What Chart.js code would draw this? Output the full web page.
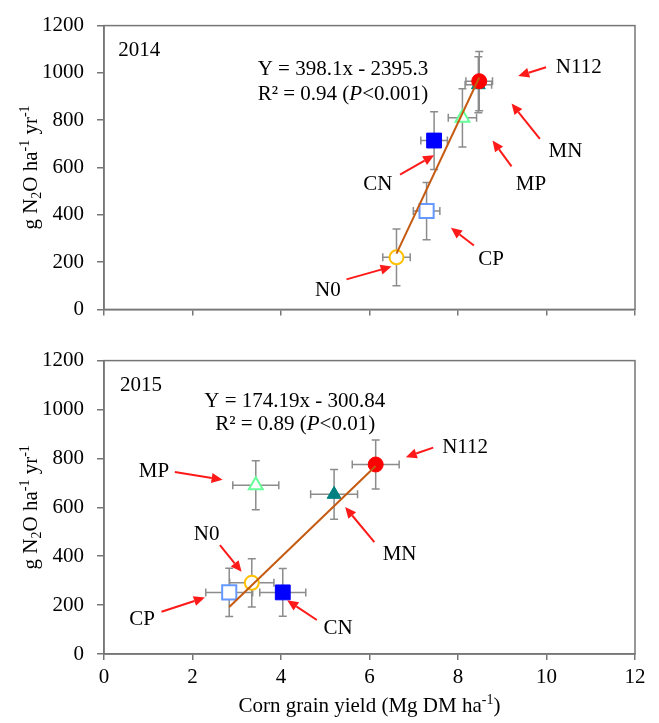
<!DOCTYPE html>
<html>
<head>
<meta charset="utf-8">
<script src="https://cdn.jsdelivr.net/npm/chart.js@4"></script>
<style>
body{margin:0;background:#fff;}
canvas{display:block;}
</style>
</head>
<body>
<canvas id="c2014" width="659" height="335"></canvas>
<canvas id="c2015" width="659" height="388"></canvas>
<script>
// treatments
var treatments = ['N0', 'N112', 'CP', 'CN', 'MP', 'MN'];

var yield2014 = [6.61, 8.48, 7.29, 7.46, 8.10, 8.46];
var n2o2014 = [220, 965, 416, 714, 810, 950];
var yieldErr2014 = [0.31, 0.30, 0.30, 0.30, 0.32, 0.30];
var n2oErr2014 = [120, 125, 121, 122, 123, 118];
var fit2014 = [398.1, -2395.3];

var yield2015 = [3.34, 6.14, 2.83, 4.04, 3.43, 5.20];
var n2o2015 = [291, 775, 252, 252, 690, 653];
var yieldErr2015 = [0.50, 0.53, 0.53, 0.52, 0.52, 0.53];
var n2oErr2015 = [99, 100, 99, 98, 100, 102];
var fit2015 = [174.19, -300.84];

var xTicks = [0, 2, 4, 6, 8, 10, 12];
var yTicks = [0, 200, 400, 600, 800, 1000, 1200];

var FONT = '"Liberation Serif", "Times New Roman", serif';
var FS = 21;
var AXIS = '#767676';

var markers = {
	N0:   {shape: 'circle',   r: 7,    fill: '#ffffff', stroke: '#FFC000', bw: 2},
	N112: {shape: 'circle',   r: 7.5,  fill: '#FF0000', stroke: '#FF0000', bw: 1},
	CP:   {shape: 'rect',     r: 10,   fill: '#ffffff', stroke: '#6699FF', bw: 2},
	CN:   {shape: 'rect',     r: 10.5, fill: '#0000FF', stroke: '#0000FF', bw: 1},
	MP:   {shape: 'triangle', r: 8,    fill: '#ffffff', stroke: '#66FF99', bw: 2},
	MN:   {shape: 'triangle', r: 8,    fill: '#008080', stroke: '#008080', bw: 1}
};

function fontOf(p){
	return (p.italic ? 'italic ' : '') + (p.size || FS) + 'px ' + FONT;
}

// draws a run of text pieces (sub/superscripts, italics); y is the visual centre
function drawRich(ctx, parts, x, y, align){
	var w = 0;
	ctx.textBaseline = 'alphabetic';
	ctx.textAlign = 'left';
	parts.forEach(function(p){
		ctx.font = fontOf(p);
		w += ctx.measureText(p.t).width;
	});
	var cx = align === 'left' ? x : (align === 'right' ? x - w : x - w / 2);
	var base = y + 7;
	parts.forEach(function(p){
		ctx.font = fontOf(p);
		ctx.fillText(p.t, cx, base + (p.dy || 0));
		cx += ctx.measureText(p.t).width;
	});
}

var framePlugin = {
	id: 'frame',
	beforeDatasetsDraw: function(chart){
		var a = chart.chartArea, ctx = chart.ctx;
		ctx.save();
		ctx.strokeStyle = AXIS;
		ctx.lineWidth = 1.5;
		ctx.strokeRect(a.left, a.top, a.right - a.left, a.bottom - a.top);
		ctx.restore();
	}
};

var errorBarPlugin = {
	id: 'errorBars',
	beforeDatasetsDraw: function(chart, args, opts){
		var xs = chart.scales.x, ys = chart.scales.y, ctx = chart.ctx;
		ctx.save();
		ctx.strokeStyle = '#8c8c8c';
		ctx.lineWidth = 1.5;
		for (var i = 0; i < opts.x.length; i++){
			var px = xs.getPixelForValue(opts.x[i]);
			var py = ys.getPixelForValue(opts.y[i]);
			var x0 = xs.getPixelForValue(opts.x[i] - opts.xe[i]);
			var x1 = xs.getPixelForValue(opts.x[i] + opts.xe[i]);
			var y0 = ys.getPixelForValue(opts.y[i] - opts.ye[i]);
			var y1 = ys.getPixelForValue(opts.y[i] + opts.ye[i]);
			var c = 4;
			ctx.beginPath();
			ctx.moveTo(x0, py); ctx.lineTo(x1, py);
			ctx.moveTo(x0, py - c); ctx.lineTo(x0, py + c);
			ctx.moveTo(x1, py - c); ctx.lineTo(x1, py + c);
			ctx.moveTo(px, y0); ctx.lineTo(px, y1);
			ctx.moveTo(px - c, y0); ctx.lineTo(px + c, y0);
			ctx.moveTo(px - c, y1); ctx.lineTo(px + c, y1);
			ctx.stroke();
		}
		ctx.restore();
	}
};

var notesPlugin = {
	id: 'notes',
	afterDraw: function(chart, args, opts){
		var xs = chart.scales.x, ys = chart.scales.y, ctx = chart.ctx, a = chart.chartArea;
		ctx.save();
		ctx.fillStyle = '#000';
		(opts.texts || []).forEach(function(t){
			var parts = typeof t.text === 'string' ? [{t: t.text}] : t.text;
			drawRich(ctx, parts, xs.getPixelForValue(t.x), ys.getPixelForValue(t.y), t.align || 'center');
		});
		(opts.arrows || []).forEach(function(ar){
			var x0 = xs.getPixelForValue(ar[0]), y0 = ys.getPixelForValue(ar[1]);
			var x1 = xs.getPixelForValue(ar[2]), y1 = ys.getPixelForValue(ar[3]);
			var ang = Math.atan2(y1 - y0, x1 - x0);
			var hl = 11, hw = 5;
			var bx = x1 - Math.cos(ang) * hl, by = y1 - Math.sin(ang) * hl;
			ctx.strokeStyle = '#FF1A1A';
			ctx.fillStyle = '#FF1A1A';
			ctx.lineWidth = 2;
			ctx.beginPath();
			ctx.moveTo(x0, y0); ctx.lineTo(bx, by);
			ctx.stroke();
			ctx.beginPath();
			ctx.moveTo(x1, y1);
			ctx.lineTo(bx + Math.sin(ang) * hw, by - Math.cos(ang) * hw);
			ctx.lineTo(bx - Math.sin(ang) * hw, by + Math.cos(ang) * hw);
			ctx.closePath();
			ctx.fill();
		});
		// axis titles
		ctx.fillStyle = '#000';
		ctx.save();
		ctx.translate(a.left - 74, (a.top + a.bottom) / 2);
		ctx.rotate(-Math.PI / 2);
		drawRich(ctx, [
			{t: 'g N'}, {t: '2', size: 14, dy: 4}, {t: 'O ha'}, {t: '-1', size: 14, dy: -8},
			{t: ' yr'}, {t: '-1', size: 14, dy: -8}
		], 0, 0, 'center');
		ctx.restore();
		if (opts.xTitle){
			drawRich(ctx, [
				{t: 'Corn grain yield (Mg DM ha'}, {t: '-1', size: 14, dy: -8}, {t: ')'}
			], (a.left + a.right) / 2, a.bottom + 51, 'center');
		}
		ctx.restore();
	}
};

function fitLine(xs, fit){
	var lo = Math.min.apply(null, xs), hi = Math.max.apply(null, xs);
	return [{x: lo, y: fit[0] * lo + fit[1]}, {x: hi, y: fit[0] * hi + fit[1]}];
}

function buildChart(id, xv, yv, xe, ye, fit, opt){
	var datasets = [{
		type: 'line',
		data: fitLine(xv, fit),
		borderColor: '#C55A11',
		borderWidth: 2,
		pointRadius: 0,
		fill: false,
		order: 0
	}];
	treatments.forEach(function(t, i){
		var m = markers[t];
		datasets.push({
			label: t,
			data: [{x: xv[i], y: yv[i]}],
			pointStyle: m.shape,
			pointRadius: m.r,
			backgroundColor: m.fill,
			borderColor: m.stroke,
			borderWidth: m.bw,
			order: 1
		});
	});

	return new Chart(document.getElementById(id), {
		type: 'scatter',
		data: {datasets: datasets},
		plugins: [framePlugin, errorBarPlugin, notesPlugin],
		options: {
			responsive: false,
			animation: false,
			layout: {padding: {top: opt.padTop, right: 24, bottom: 0, left: 0}},
			scales: {
				x: {
					min: xTicks[0], max: xTicks[xTicks.length - 1],
					afterFit: function(s){ s.height = opt.xHeight; },
					ticks: {
						stepSize: xTicks[1] - xTicks[0],
						display: opt.xLabels,
						color: '#000',
						padding: 5,
						font: {family: FONT, size: FS},
						callback: function(v){ return String(v); }
					},
					grid: {drawOnChartArea: false, drawTicks: true, tickLength: 6, color: AXIS, lineWidth: 1.5},
					border: {display: true, color: AXIS, width: 1.5}
				},
				y: {
					min: yTicks[0], max: yTicks[yTicks.length - 1],
					afterFit: function(s){ s.width = 104; },
					ticks: {
						stepSize: yTicks[1] - yTicks[0],
						color: '#000',
						padding: 13,
						font: {family: FONT, size: FS},
						callback: function(v){ return String(v); }
					},
					grid: {drawOnChartArea: false, drawTicks: true, tickLength: 7, color: AXIS, lineWidth: 1.5},
					border: {display: true, color: AXIS, width: 1.5}
				}
			},
			plugins: {
				legend: {display: false},
				tooltip: {enabled: false},
				errorBars: {x: xv, y: yv, xe: xe, ye: ye},
				notes: {texts: opt.texts, arrows: opt.arrows, xTitle: opt.xLabels}
			}
		}
	});
}

buildChart('c2014', yield2014, n2o2014, yieldErr2014, n2oErr2014, fit2014, {
	padTop: 18, xHeight: 24, xLabels: false,
	texts: [
		{text: '2014', x: 0.32, y: 1103, align: 'left'},
		{text: 'Y = 398.1x - 2395.3', x: 5.40, y: 1020},
		{text: [{t: 'R\u00b2 = 0.94 ('}, {t: 'P', italic: true}, {t: '<0.001)'}], x: 5.40, y: 917},
		{text: 'N112', x: 10.73, y: 1028},
		{text: 'MN', x: 10.43, y: 673},
		{text: 'MP', x: 9.65, y: 536},
		{text: 'CN', x: 6.19, y: 536},
		{text: 'CP', x: 8.75, y: 217},
		{text: 'N0', x: 5.06, y: 86}
	],
	arrows: [
		[9.99, 1024, 9.36, 987],
		[9.85, 721, 9.21, 871],
		[9.21, 605, 8.78, 714],
		[6.69, 570, 7.46, 652],
		[8.36, 270, 7.84, 345],
		[5.48, 127, 6.50, 181]
	]
});

buildChart('c2015', yield2015, n2o2015, yieldErr2015, n2oErr2015, fit2015, {
	padTop: 25, xHeight: 69, xLabels: true,
	texts: [
		{text: '2015', x: 0.36, y: 1106, align: 'left'},
		{text: 'Y = 174.19x - 300.84', x: 4.31, y: 1037},
		{text: [{t: 'R\u00b2 = 0.89 ('}, {t: 'P', italic: true}, {t: '<0.01)'}], x: 4.32, y: 943},
		{text: 'N112', x: 8.16, y: 849},
		{text: 'MN', x: 6.68, y: 412},
		{text: 'MP', x: 1.13, y: 751},
		{text: 'N0', x: 2.32, y: 494},
		{text: 'CP', x: 0.86, y: 147},
		{text: 'CN', x: 5.29, y: 110}
	],
	arrows: [
		[7.44, 844, 6.82, 805],
		[6.11, 458, 5.45, 601],
		[1.60, 744, 2.68, 713],
		[2.62, 445, 3.11, 336],
		[1.30, 173, 2.28, 231],
		[4.81, 139, 4.14, 220]
	]
});
</script>
</body>
</html>
